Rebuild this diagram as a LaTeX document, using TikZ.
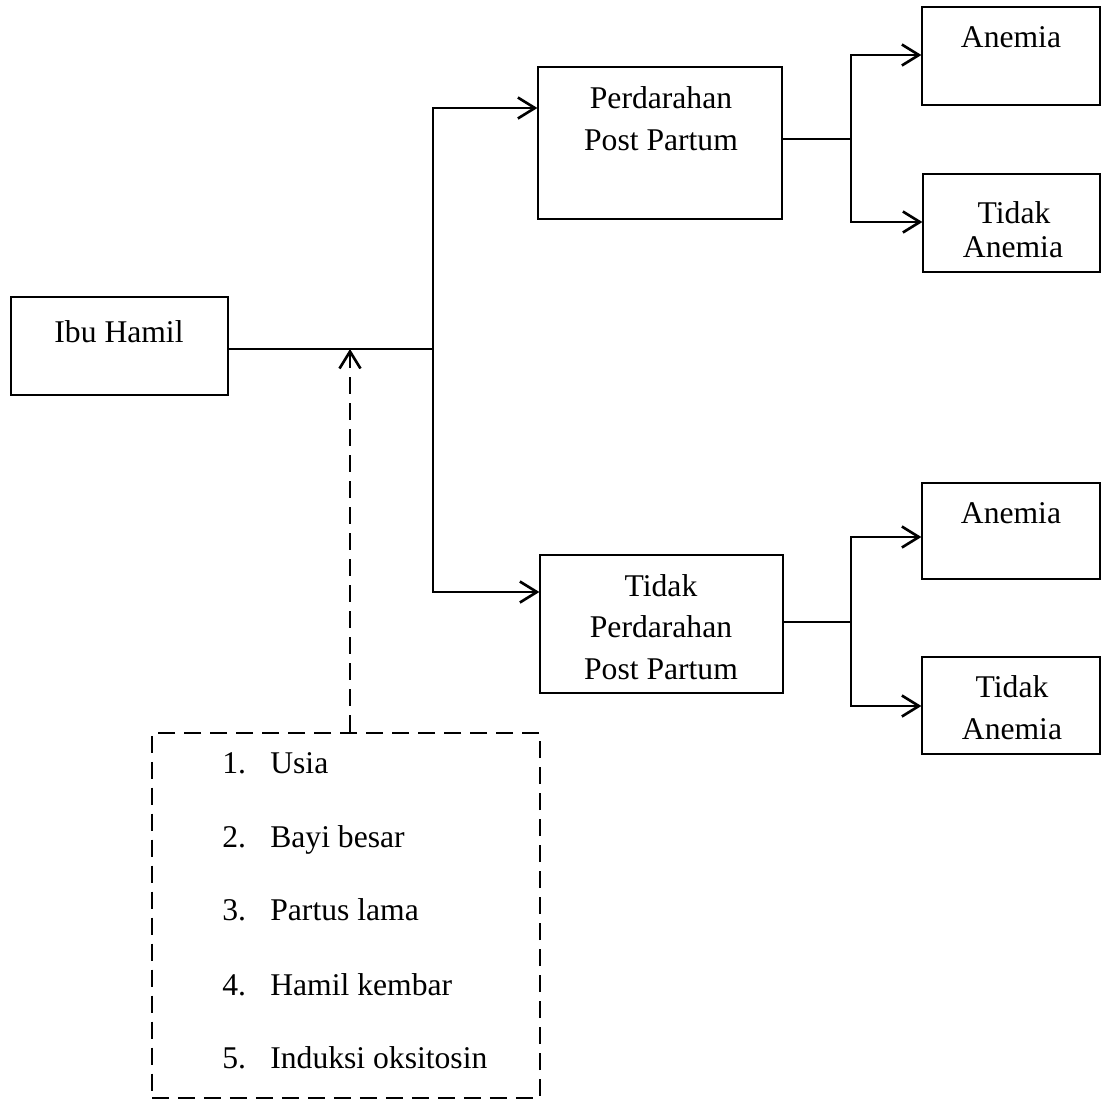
\documentclass[tikz,border=0pt]{standalone}
\usepackage{fontspec}
\setmainfont{Liberation Serif}
\usetikzlibrary{arrows.meta}
\begin{document}
\begin{tikzpicture}[x=0.02cm,y=-0.02cm,
  box/.style={draw, line width=0.7pt, inner sep=0pt, rectangle},
  txt/.style={anchor=base, inner sep=0pt, font=\fontsize{18}{21}\selectfont},
  thinline/.style={line width=0.8pt},
  conn/.style={line width=1.6pt},
  arr/.style={conn, -{Straight Barb[length=0.34cm, width=0.42cm, line width=1.5pt]}},
  darr/.style={line width=1.5pt, dash pattern=on 0.34cm off 0.18cm,
     -{Straight Barb[length=0.34cm, width=0.42cm, line width=1.5pt]}},
  dbox/.style={draw, line width=1.5pt, dash pattern=on 0.34cm off 0.18cm, inner sep=0pt}]
\useasboundingbox (0,0) rectangle (1103,1100);
% boxes
\node[box, minimum width={217*0.02cm}, minimum height={98*0.02cm}] (ibu) at (119.5,346) {};
\node[box, minimum width={244*0.02cm}, minimum height={152*0.02cm}] (pph) at (660,143) {};
\node[box, minimum width={178*0.02cm}, minimum height={98*0.02cm}] (an1) at (1011,56) {};
\node[box, minimum width={177*0.02cm}, minimum height={98*0.02cm}] (ta1) at (1011.5,223) {};
\node[box, minimum width={243*0.02cm}, minimum height={138*0.02cm}] (tpph) at (661.5,624) {};
\node[box, minimum width={178*0.02cm}, minimum height={96*0.02cm}] (an2) at (1011,531) {};
\node[box, minimum width={178*0.02cm}, minimum height={97*0.02cm}] (ta2) at (1011,705.5) {};
\node[dbox, minimum width={388*0.02cm}, minimum height={365*0.02cm}] (risk) at (346,915.5) {};
% texts
\node[txt] (tibu) at (119,342) {Ibu Hamil};
\node[txt] (tpph1) at (661,108) {Perdarahan};
\node[txt] (tpph2) at (661,150) {Post Partum};
\node[txt] (tan1) at (1011,47) {Anemia};
\node[txt] (tta1a) at (1014,223) {Tidak};
\node[txt] (tta1b) at (1013,257) {Anemia};
\node[txt] (ttp1) at (661,596) {Tidak};
\node[txt] (ttp2) at (661,637) {Perdarahan};
\node[txt] (ttp3) at (661,679) {Post Partum};
\node[txt] (tan2) at (1011,523) {Anemia};
\node[txt] (tta2a) at (1012,697) {Tidak};
\node[txt] (tta2b) at (1012,739) {Anemia};
% list
\foreach \n/\t/\y in {1/Usia/773, 2/Bayi besar/847, 3/Partus lama/920, 4/Hamil kembar/995, 5/Induksi oksitosin/1068}{
  \node[txt, anchor=base west] (num\n) at (222,\y) {\n.};
  \node[txt, anchor=base west] (item\n) at (270,\y) {\t};
}
% coordinates
\coordinate (j0) at (330,349);
\coordinate (j1) at (433,349);
\coordinate (y108) at (0,108);
\coordinate (y592) at (0,592);
\coordinate (k1) at (851,139);
\coordinate (y55) at (0,55);
\coordinate (y222) at (0,222);
\coordinate (k2) at (851,622);
\coordinate (y537) at (0,537);
\coordinate (y706) at (0,706);
\coordinate (dx) at (350,0);
% connectors
\draw[thinline] (ibu.east |- j0) -- (j0);
\draw[conn] (j0) -- (j1);
\draw[arr] (j1) |- (pph.west |- y108);
\draw[arr] (j1) |- (tpph.west |- y592);
\draw[conn] (pph.east |- k1) -- (k1);
\draw[arr] (k1) |- (an1.west |- y55);
\draw[arr] (k1) |- (ta1.west |- y222);
\draw[conn] (tpph.east |- k2) -- (k2);
\draw[arr] (k2) |- (an2.west |- y537);
\draw[arr] (k2) |- (ta2.west |- y706);
\draw[darr] (risk.north -| dx) -- (j0 -| dx);
\end{tikzpicture}
\end{document}
